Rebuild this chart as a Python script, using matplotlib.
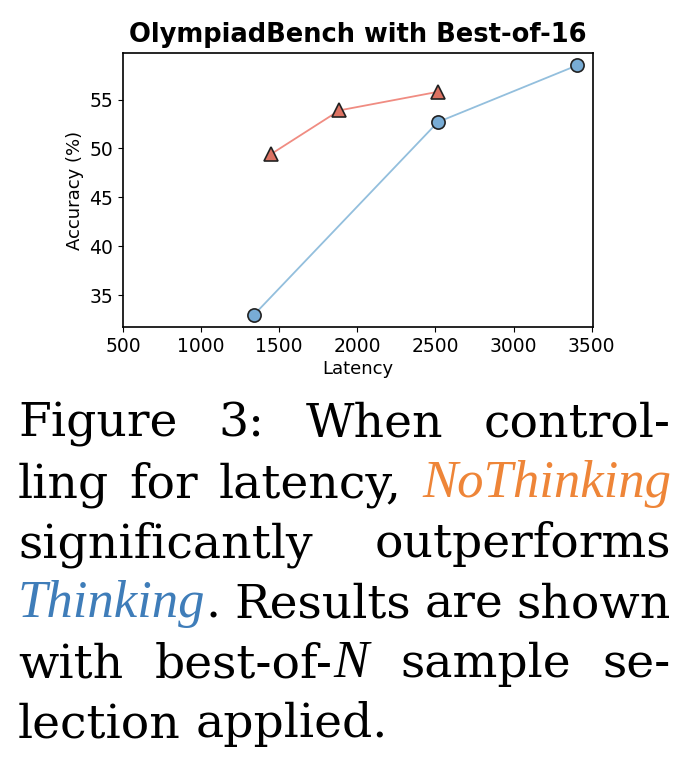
import matplotlib
matplotlib.use('Agg')
import matplotlib.pyplot as plt

# data
nothinking_latency = [1445, 1885, 2515]
nothinking_acc = [49.4, 53.9, 55.8]
thinking_latency = [1340, 2515, 3405]
thinking_acc = [33.0, 52.7, 58.5]

# caption: each line is a list of words, each word a list of (text, color, italic)
BLACK = 'black'
ORANGE = '#ee8538'
BLUE = '#3f7db9'
caption_lines = [
    [[('Figure', BLACK, False)], [('3:', BLACK, False)], [('When', BLACK, False)], [('control-', BLACK, False)]],
    [[('ling', BLACK, False)], [('for', BLACK, False)], [('latency,', BLACK, False)], [('NoThinking', ORANGE, True)]],
    [[('significantly', BLACK, False)], [('outperforms', BLACK, False)]],
    [[('Thinking', BLUE, True), ('.', BLACK, False)], [('Results', BLACK, False)], [('are', BLACK, False)], [('shown', BLACK, False)]],
    [[('with', BLACK, False)], [('best-of-', BLACK, False), ('N', BLACK, True)], [('sample', BLACK, False)], [('se-', BLACK, False)]],
    [[('lection', BLACK, False)], [('applied.', BLACK, False)]],
]

W, H = 700, 777
fig = plt.figure(figsize=(7, 7.77), dpi=100)
ax = fig.add_axes([123 / W, 1 - 327 / H, 470 / W, 274 / H])

ax.plot(nothinking_latency, nothinking_acc, color='#f08c82', lw=1.3, zorder=2)
ax.plot(nothinking_latency, nothinking_acc, ls='none', marker='^', ms=10,
        mfc='#dc7262', mec='#222222', mew=1.2, zorder=3)
ax.plot(thinking_latency, thinking_acc, color='#93bfdd', lw=1.3, zorder=2)
ax.plot(thinking_latency, thinking_acc, ls='none', marker='o', ms=9.5,
        mfc='#78acd5', mec='#222222', mew=1.2, zorder=3)

ax.set_xlim(left=500)
ax.set_xticks([500, 1000, 1500, 2000, 2500, 3000, 3500])
ax.set_yticks([35, 40, 45, 50, 55])
ax.tick_params(labelsize=13.5)
ax.set_xlabel('Latency', fontsize=13, labelpad=3)
ax.set_ylabel('Accuracy (%)', fontsize=13, labelpad=4)
ax.set_title('OlympiadBench with Best-of-16', fontsize=18.5, fontweight='bold', pad=8)
for s in ax.spines.values():
    s.set_linewidth(1.2)

# justified caption
renderer = fig.canvas.get_renderer()
left_px, right_px = 18, 671
baselines = [437, 497, 557, 617, 677, 737]
for i, line in enumerate(caption_lines):
    y = 1 - baselines[i] / H
    words = []
    for word in line:
        segs = []
        for txt, col, it in word:
            if it:
                t = fig.text(0, y, txt, fontsize=38, family='Liberation Serif', style='italic',
                             color=col, va='baseline', ha='left')
            else:
                t = fig.text(0, y, txt, fontsize=34, family='DejaVu Serif',
                             color=col, va='baseline', ha='left')
            segs.append((t, t.get_window_extent(renderer).width))
        words.append(segs)
    widths = [sum(w for _, w in segs) for segs in words]
    if i == len(caption_lines) - 1:
        gap = 0.318 * 34 * 100 / 72
    else:
        gap = (right_px - left_px - sum(widths)) / (len(words) - 1)
    x = left_px
    for segs in words:
        for t, w in segs:
            t.set_x(x / W)
            x += w
        x += gap

plt.savefig('out.png', dpi=100)
plt.close()
